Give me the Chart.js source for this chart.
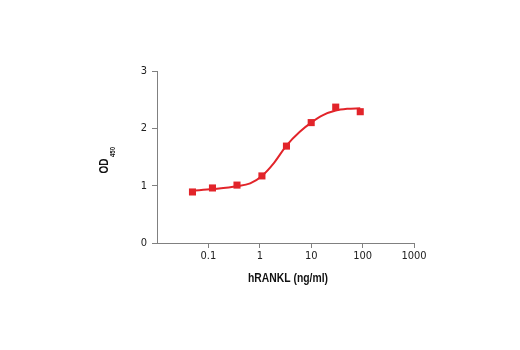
<!DOCTYPE html>
<html>
<head>
<meta charset="utf-8">
<script src="https://cdn.jsdelivr.net/npm/chart.js@4.4.1/dist/chart.umd.min.js"></script>
<style>
  html, body { margin: 0; padding: 0; background: #fff; }
  #wrap { width: 520px; height: 350px; }
</style>
</head>
<body>
<div id="wrap"><canvas id="myChart" width="520" height="350"></canvas></div>
<script>
// measured points (hRANKL ng/ml vs OD450)
var conc = [0.049, 0.12, 0.36, 1.1, 3.3, 10, 30, 90];
var od = [0.89, 0.96, 1.01, 1.17, 1.69, 2.10, 2.37, 2.29];

// fitted curve
var curveX = [0.049, 0.12, 0.36, 0.65, 1.1, 1.86, 3.3, 6, 10, 17, 30, 50, 90];
var curveY = [0.91, 0.94, 0.99, 1.04, 1.17, 1.39, 1.70, 1.94, 2.10, 2.23, 2.31, 2.34, 2.35];

var xTicks = [0.01, 0.1, 1, 10, 100, 1000];
var yTicks = [0, 1, 2, 3];

var FONT = "'DejaVu Sans Condensed', 'Liberation Sans', sans-serif";
var TITLE_FONT = "'Liberation Sans', 'DejaVu Sans Condensed', sans-serif";
var RED = '#e2242a';
var AXIS = '#808080';

function toXY(xs, ys) {
    return xs.map(function (x, i) { return { x: x, y: ys[i] }; });
}

// squeeze text to a given width (condensed look)
function narrowText(ctx, txt, x, y, w) {
    var real = ctx.measureText(txt).width;
    var s = Math.min(1, w / real);
    ctx.save();
    ctx.translate(x, y);
    ctx.scale(s, 1);
    ctx.fillText(txt, 0, 0);
    ctx.restore();
}

// axis titles (OD with subscript 450)
var titles = {
    id: 'titles',
    afterDraw: function (chart) {
        var ctx = chart.ctx;
        ctx.save();
        ctx.fillStyle = '#111';
        ctx.textBaseline = 'middle';
        ctx.textAlign = 'center';
        ctx.font = 'bold 13px ' + TITLE_FONT;
        narrowText(ctx, 'hRANKL (ng/ml)', 288, 278, 80);

        ctx.translate(104, 166);
        ctx.rotate(-Math.PI / 2);
        ctx.textAlign = 'center';
        ctx.font = 'bold 13px ' + TITLE_FONT;
        narrowText(ctx, 'OD', 0, 0, 15);
        ctx.textAlign = 'left';
        ctx.font = 'bold 7px ' + TITLE_FONT;
        narrowText(ctx, '450', 9, 9, 10);
        ctx.restore();
    }
};

var ctx = document.getElementById('myChart').getContext('2d');
var myChart = new Chart(ctx, {
    type: 'scatter',
    data: {
        datasets: [{
            label: 'points',
            data: toXY(conc, od),
            pointStyle: 'rect',
            pointRadius: 5,
            backgroundColor: RED,
            borderColor: RED,
            borderWidth: 0,
            showLine: false,
            order: 1
        }, {
            label: 'fit',
            data: toXY(curveX, curveY),
            showLine: true,
            pointRadius: 0,
            borderColor: RED,
            borderWidth: 2,
            cubicInterpolationMode: 'monotone',
            fill: false,
            order: 2
        }]
    },
    options: {
        responsive: false,
        animation: false,
        layout: { padding: { left: 0, top: 71, right: 106, bottom: 0 } },
        plugins: {
            legend: { display: false },
            tooltip: { enabled: false }
        },
        scales: {
            x: {
                type: 'logarithmic',
                min: 0.01,
                max: 1000,
                afterBuildTicks: function (scale) {
                    scale.ticks = xTicks.map(function (v) { return { value: v, major: true }; });
                },
                afterFit: function (scale) { scale.height = 107; },
                ticks: {
                    autoSkip: false,
                    maxRotation: 0,
                    color: '#222',
                    font: { family: FONT, size: 11 },
                    padding: 2,
                    callback: function (v) {
                        if (v === 0.01) return '';
                        return String(v);
                    }
                },
                grid: {
                    drawOnChartArea: false,
                    tickLength: 5,
                    color: function (c) {
                        return (c.tick && c.tick.value === 0.01) ? 'rgba(0,0,0,0)' : AXIS;
                    }
                },
                border: { color: AXIS, width: 1 }
            },
            y: {
                min: 0,
                max: 3,
                afterBuildTicks: function (scale) {
                    scale.ticks = yTicks.map(function (v) { return { value: v }; });
                },
                afterFit: function (scale) { scale.width = 157; },
                ticks: {
                    color: '#222',
                    font: { family: FONT, size: 11 },
                    padding: 5
                },
                grid: { drawOnChartArea: false, color: AXIS, tickLength: 5 },
                border: { color: AXIS, width: 1 }
            }
        }
    },
    plugins: [titles]
});
</script>
</body>
</html>
